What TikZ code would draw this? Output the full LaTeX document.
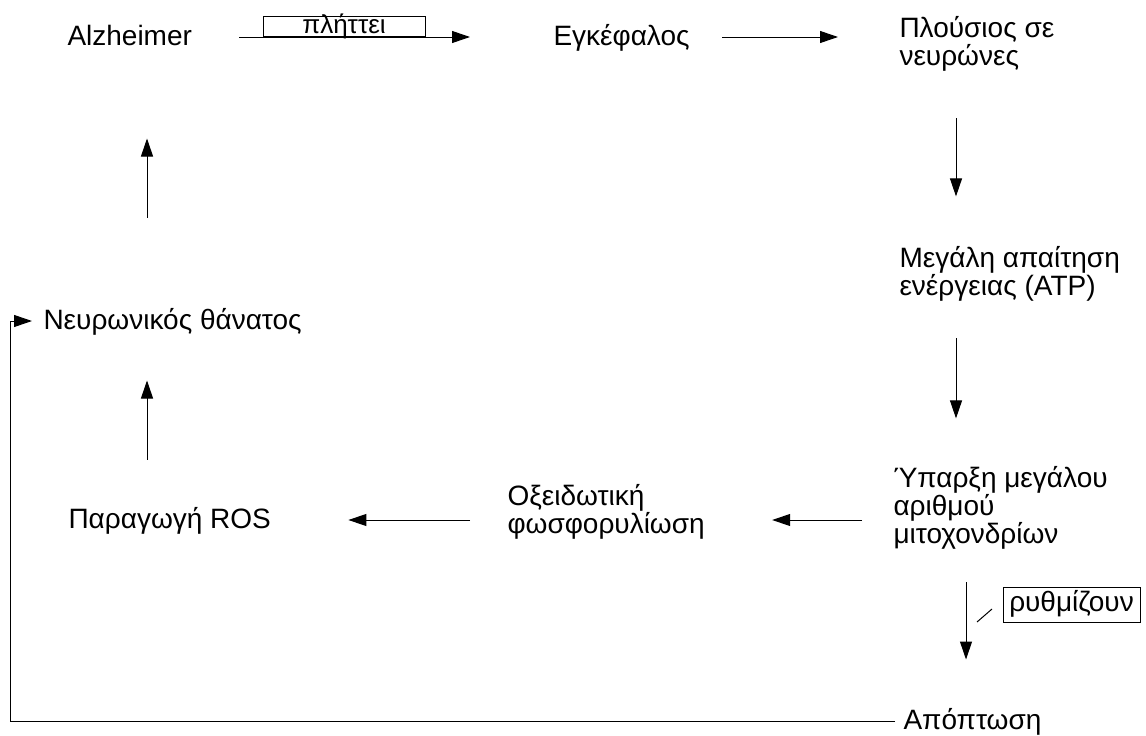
\documentclass[tikz,border=0pt]{standalone}
\usepackage{fontspec}
\setmainfont{Liberation Sans}
\usepackage{tikz}
\usetikzlibrary{arrows.meta}

\begin{document}
\begin{tikzpicture}[x=1pt, y=-1pt, ->, >={Triangle[length=18pt,width=12pt]}, line width=1pt]
  \tikzstyle{every node}=[inner sep=0pt, font=\fontsize{28}{28}\selectfont]
  \tikzstyle{txt}=[anchor=base west, align=left]
  \tikzstyle{oneline}=[txt, text height=18pt, text depth=2pt]
  \tikzstyle{tagbox}=[-, draw]

  \useasboundingbox (0,0) rectangle (1146,736);

  % multi-line texts sit on the baseline of their last line
  \node[oneline] (A) at (67,45)  {Alzheimer};
  \node[oneline] (B) at (553,45) {Εγκέφαλος};
  \node[txt]     (C) at (899,65) {Πλούσιος σε\\νευρώνες};
  \node[txt]     (D) at (899,295) {Μεγάλη απαίτηση\\ενέργειας (ATP)};
  \node[txt]     (E) at (893,543) {Ύπαρξη μεγάλου\\αριθμού\\μιτοχονδρίων};
  \node[txt]     (F) at (507,533) {Οξειδωτική\\φωσφορυλίωση};
  \node[oneline] (G) at (68,528)  {Παραγωγή ROS};
  \node[oneline] (H) at (43,329)  {Νευρωνικός θάνατος};
  \node[oneline] (I) at (903,729) {Απόπτωση};

  \node[tagbox, minimum width=162pt, text height=17pt, text depth=3pt,
        font=\fontsize{26}{26}\selectfont, anchor=south] (hit) at (344,37) {πλήττει};
  \node[tagbox, minimum width=137pt, minimum height=35pt, text height=20pt,
        text depth=7pt] (reg) at (1071.5,604.5) {ρυθμίζουν};

  \path (A.east) edge [shorten <=47pt, shorten >=83pt] (A.east -| B.west)
        (B.east) edge [shorten <=32pt, shorten >=61pt] (B.east -| C.west)
        ([xshift=57pt]C.south west) edge [shorten <=47pt, shorten >=49pt]
              ([xshift=57pt]C.south west |- D.north)
        ([xshift=57pt]D.south west) edge [shorten <=37pt, shorten >=47pt]
              ([xshift=57pt]D.south west |- E.north)
        (E.west |- G) edge [shorten <=31pt, shorten >=67pt] (F.east |- G)
        (F.west |- G) edge [shorten <=37pt, shorten >=77pt] (G.east)
        ([xshift=79pt]G.north west) edge [shorten <=50pt, shorten >=49pt]
              ([xshift=79pt]G.north west |- H.south)
        ([xshift=104pt]H.north west) edge [shorten <=93pt, shorten >=91pt]
              ([xshift=104pt]H.north west |- A.south)
        ([xshift=73pt]E.south west) edge [shorten <=33pt, shorten >=51pt]
              ([xshift=73pt]E.south west |- I.north);

  \draw [shorten <=8pt, shorten >=11pt] (I.west) -| ([xshift=-33pt]H.west) -- (H.west);

  \coordinate (r1) at (977,622);
  \coordinate (r2) at (992,609);
  \draw [-] (r1) -- (r2);
\end{tikzpicture}
\end{document}
